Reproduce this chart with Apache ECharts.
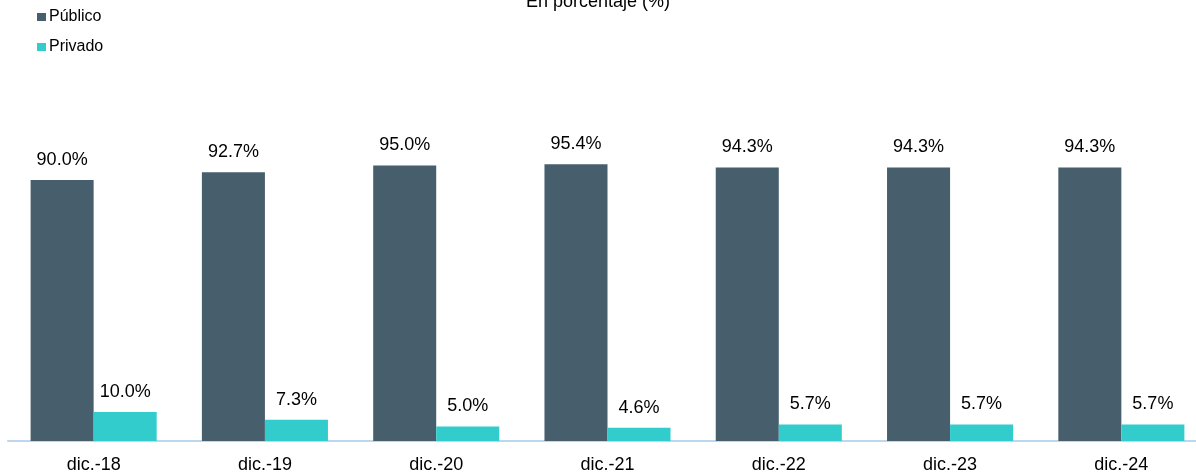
<!DOCTYPE html>
<html><head><meta charset="utf-8">
<script src="https://cdn.jsdelivr.net/npm/echarts@6/dist/echarts.min.js"></script>
<style>html,body{margin:0;padding:0;background:#fff}#c{width:1196px;height:476px}</style>
</head><body><div id="c"></div>
<script>
const categories = ['dic.-18','dic.-19','dic.-20','dic.-21','dic.-22','dic.-23','dic.-24'];
const publico = [90.0, 92.7, 95.0, 95.4, 94.3, 94.3, 94.3];
const privado = [10.0, 7.3, 5.0, 4.6, 5.7, 5.7, 5.7];
const seriesNames = ['Público','Privado'];
const titleText = 'En porcentaje (%)';

const font = '"Liberation Sans", Arial, sans-serif';
const chart = echarts.init(document.getElementById('c'), null, {renderer:'canvas'});
const label = {show:true, position:'top', distance:11, fontSize:18, color:'#000', fontFamily:font,
  formatter: p => p.value.toFixed(1) + '%'};
chart.setOption({
  animation:false,
  textStyle:{fontFamily:font},
  title:{text:titleText, left:'center', top:-12, textStyle:{fontSize:18, fontWeight:'normal', color:'#000', fontFamily:font}},
  legend:{orient:'vertical', left:32, top:4, itemWidth:9, itemHeight:8, itemGap:14, icon:'rect',
    textStyle:{fontSize:16, color:'#000', fontFamily:font, padding:[0,0,0,-2]}},
  grid:{left:8, width:1199, top:151, bottom:35, containLabel:false, outerBoundsMode:'none'},
  xAxis:{type:'category', data:categories, axisTick:{show:false},
    axisLine:{lineStyle:{color:'#BDD7EE', width:2}},
    axisLabel:{fontSize:18, color:'#000', margin:15, fontFamily:font}},
  yAxis:{type:'value', min:0, max:100, show:false, splitLine:{show:false}},
  series:[
    {name:seriesNames[0], type:'bar', data:publico, barGap:'0%', barCategoryGap:'26.4%', itemStyle:{color:'#475E6C'}, label},
    {name:seriesNames[1], type:'bar', data:privado, barGap:'0%', barCategoryGap:'26.4%', itemStyle:{color:'#33CCCC'}, label}
  ]
});
</script></body></html>
